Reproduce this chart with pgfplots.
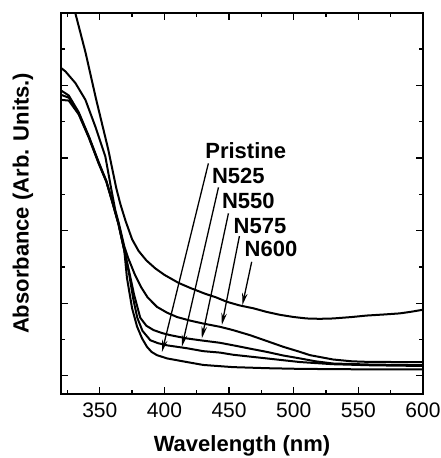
\documentclass[border=0pt]{standalone}
\usepackage{fontspec}
\setmainfont{Liberation Sans}
\usepackage{pgfplots}
\usepackage{pgfplotstable}
\pgfplotsset{compat=1.18}
\usetikzlibrary{arrows.meta}

\pgfplotstableread{
x y
330.5 5.05
331 5.0
339 4.45
347 3.82
356.5 3.12
362.8 2.58
366 2.36
370 2.13
375 1.88
380 1.72
386 1.59
392.9 1.48
400 1.39
410.9 1.28
420 1.21
431.5 1.13
440 1.08
448.2 1.02
458 0.97
468.8 0.93
479.1 0.88
489.4 0.84
500 0.81
510 0.79
520 0.785
530.5 0.79
545 0.81
556.3 0.83
570 0.845
582 0.86
590 0.88
600 0.91
}\nsixhundred

\pgfplotstableread{
x y
320 4.24
323.5 4.19
331.2 4.03
338.9 3.80
346.6 3.43
354.3 3.02
359 2.56
362 2.28
365 2.08
369 1.78
372 1.62
377 1.40
382 1.22
387 1.08
394.2 0.95
402 0.87
409.7 0.81
420 0.76
430 0.72
443 0.675
453 0.63
466.2 0.56
479.1 0.48
491.9 0.40
504.8 0.33
512.5 0.285
530.5 0.225
545 0.20
556.3 0.193
580 0.19
600 0.19
}\nfivesevenfive

\pgfplotstableread{
x y
320 3.93
326 3.86
333.7 3.63
341.5 3.30
349.2 2.94
355.1 2.68
359.7 2.40
364.4 2.10
369 1.73
372.9 1.42
376.5 1.12
381.3 0.80
386 0.69
391.6 0.63
398 0.59
404.5 0.56
417.4 0.515
427.6 0.49
443 0.455
453.3 0.42
466 0.375
479.1 0.33
491.9 0.28
504.8 0.24
517 0.20
530.5 0.17
560 0.155
600 0.147
}\nfivefifty

\pgfplotstableread{
x y
320 3.87
326 3.83
333.7 3.61
341.5 3.29
349.2 2.93
355.1 2.68
359.7 2.40
364.4 2.10
369 1.73
372.9 1.38
376 1.05
379 0.80
383 0.62
389.1 0.49
395 0.45
402 0.42
417.4 0.38
430 0.34
443 0.32
453.3 0.29
479.1 0.24
504.8 0.19
530.5 0.16
560 0.145
600 0.136
}\nfivetwofive

\pgfplotstableread{
x y
320 3.80
326 3.79
333.7 3.60
341.5 3.28
349.2 2.92
355.1 2.67
359.7 2.39
364.4 2.09
369 1.72
371 1.35
375 0.93
378.8 0.68
382.7 0.515
386.5 0.40
390 0.33
394.2 0.285
402 0.24
417.4 0.19
430 0.15
453 0.12
480 0.105
505 0.096
550 0.09
600 0.088
}\pristine

\begin{document}
\begin{tikzpicture}
\useasboundingbox (-61pt,-64pt) rectangle (380pt,394pt);
\begin{axis}[
  at={(0pt,0pt)}, anchor=south west,
  scale only axis, width=362pt, height=381.3pt,
  xmin=320, xmax=600, ymin=-0.25, ymax=5,
  xtick={350,400,...,600}, minor xtick={325,375,...,575},
  ytick={0,1,...,5}, minor ytick={0.5,1.5,...,4.5},
  yticklabels={},
  tick align=inside,
  xtick pos=both, ytick pos=both,
  major tick length=7pt, minor tick length=4pt,
  tick style={line width=1.3pt, black},
  axis line style={line width=1.8pt},
  xticklabel style={font=\fontsize{21}{25}\selectfont, yshift=-5.5pt},
  /pgf/number format/assume math mode=true,
  xlabel={Wavelength (nm)}, ylabel={Absorbance (Arb. Units.)},
  label style={font=\fontsize{22}{26}\selectfont\bfseries},
  xlabel style={at={(axis description cs:0.5,0)}, anchor=north, yshift=-41pt, inner sep=0pt},
  ylabel style={at={(axis description cs:-0.0762,0.5)}, anchor=south, inner sep=0pt},
]
\addplot[black, line width=2pt] table {\nsixhundred};
\addplot[black, line width=2pt] table {\nfivesevenfive};
\addplot[black, line width=2pt] table {\nfivefifty};
\addplot[black, line width=2pt] table {\nfivetwofive};
\addplot[black, line width=2pt] table {\pristine};

\begin{scope}[every node/.style={anchor=base west, inner sep=0pt, font=\fontsize{22}{26}\selectfont\bfseries}]
\node at (axis cs:431.5,2.995) {Pristine};
\node at (axis cs:436.7,2.65) {N525};
\node at (axis cs:444.4,2.306) {N550};
\node at (axis cs:453.4,1.96) {N575};
\node at (axis cs:461.9,1.64) {N600};
\end{scope}
\begin{scope}[line width=1.3pt, -{Stealth[length=12pt,width=5.5pt]}]
\draw (axis cs:434,2.925) -- (axis cs:398.1,0.33);
\draw (axis cs:441.8,2.595) -- (axis cs:413.5,0.40);
\draw (axis cs:449.5,2.237) -- (axis cs:428.9,0.515);
\draw (axis cs:458,1.924) -- (axis cs:444.4,0.70);
\draw (axis cs:467.5,1.57) -- (axis cs:460.3,0.974);
\end{scope}
\end{axis}
\end{tikzpicture}
\end{document}
